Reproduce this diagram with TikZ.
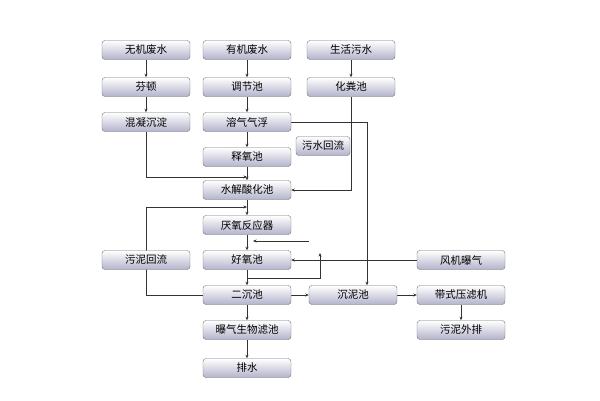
\documentclass[tikz,border=0pt]{standalone}
\usepackage{fontspec}
\newfontfamily\cjk{Noto Sans CJK SC}
\usetikzlibrary{arrows.meta}
\pgfdeclarelayer{bg}
\pgfsetlayers{bg,main}
\begin{document}
\begin{tikzpicture}[x=1pt,y=-1pt,
 box/.style={draw=black!55,rounded corners=3pt,minimum width=88pt,minimum height=19pt,inner sep=0pt,
   top color=white,bottom color=blue!20!gray!50,font=\cjk\fontsize{10.5}{12}\selectfont},
 sbox/.style={box,minimum width=54pt},
 ln/.style={draw=black!80,line width=0.6pt},
 ar/.style={ln,-{Stealth[length=3.5pt,width=3pt]}}]
\useasboundingbox (0,0) rectangle (600,400);
\node[box] (a1) at (146,50) {无机废水};
\node[box] (b1) at (247,50) {有机废水};
\node[box] (c1) at (351,50) {生活污水};
\node[box] (a2) at (146,87) {芬顿};
\node[box] (b2) at (247,87) {调节池};
\node[box] (c2) at (351,87) {化粪池};
\node[box] (a3) at (146,122) {混凝沉淀};
\node[box] (b3) at (247,122) {溶气气浮};
\node[sbox] (hl) at (323,146) {污水回流};
\node[box] (b4) at (247,157) {释氧池};
\node[box] (b5) at (247,190) {水解酸化池};
\node[box] (b6) at (247,225) {厌氧反应器};
\node[box] (b7) at (247,260) {好氧池};
\node[box] (wl) at (146,260) {污泥回流};
\node[box] (fj) at (461,260) {风机曝气};
\node[box] (b8) at (247,295) {二沉池};
\node[box] (cn) at (353,295) {沉泥池};
\node[box] (dy) at (461,295) {带式压滤机};
\node[box] (b9) at (247,330) {曝气生物滤池};
\node[box] (wp) at (461,330) {污泥外排};
\node[box] (b10) at (247,368) {排水};
\coordinate (j1) at (247,177);
\coordinate (j2) at (247,207);
\coordinate (j3) at (253,241);
\coordinate (j4) at (247,278);
\coordinate (j5) at (320,253);
\begin{pgfonlayer}{bg}
\draw[ar] (a1) -- (a2); \draw[ar] (a2) -- (a3);
\draw[ar] (b1) -- (b2); \draw[ar] (b2) -- (b3); \draw[ar] (b3) -- (b4);
\draw[ar] (c1) -- (c2);
\draw[ar] (b4) -- (b5); \draw[ar] (b5) -- (b6); \draw[ar] (b6) -- (b7);
\draw[ar] (b7) -- (b8); \draw[ar] (b8) -- (b9); \draw[ar] (b9) -- (b10);
\draw[ar] (b8) -- (cn); \draw[ar] (cn) -- (dy); \draw[ar] (dy) -- (wp);
\draw[ar] (a3.south) |- (j1);
\draw[ar] (c2.south) |- (b5.east);
\draw[ar] (b3.east) -| (cn.north -| 367,0);
\draw[ar] (b8.west) -| (146,207) -- (j2);
\draw[ar] (309,241) -- (j3);
\draw[ar] (fj.west) -- (b7.east);
\draw[ar] (j4) -| (j5);
\end{pgfonlayer}
\end{tikzpicture}
\end{document}
